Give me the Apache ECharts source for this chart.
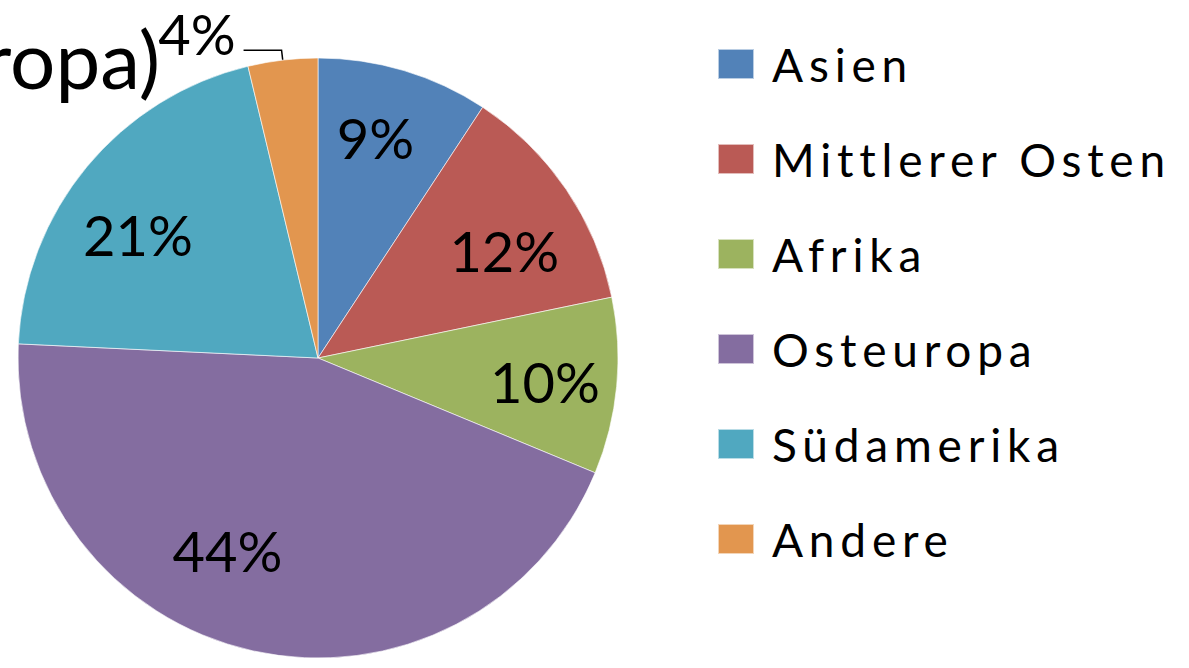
<!DOCTYPE html>
<html>
<head>
<meta charset="utf-8">
<script src="https://cdn.jsdelivr.net/npm/echarts@6/dist/echarts.min.js"></script>
<style>
html,body{margin:0;padding:0;background:#fff;}
#chart{width:1189px;height:668px;}
</style>
</head>
<body>
<div id="chart"></div>
<script>
// Data
const categories = ['Asien', 'Mittlerer Osten', 'Afrika', 'Osteuropa', 'Südamerika', 'Andere'];
const shares = [9.25, 12.5, 9.5, 44.5, 20.5, 3.75];           // slice sizes (share of the whole, %)
const printedLabels = ['9%', '12%', '10%', '44%', '21%', '4%']; // data labels as printed
const colors = ['#5282B8', '#BA5A55', '#9CB35F', '#846DA0', '#50A8C0', '#E2964F'];
const titleText = '(Osteuropa)';

// label nudges (styling only) to mimic the original label placement
const labelNudge = [[-5, -12], [6, 15], [10, 3], [-43, -20], [-12, 15], [0, 0]];

const FONT = 'Lato';
const chart = echarts.init(document.getElementById('chart'), null, {renderer: 'svg'});

const pieData = categories.map((c, i) => ({
  name: c,
  value: shares[i],
  itemStyle: {color: colors[i]},
  label: {show: i === 5},
  labelLine: {show: i === 5}
}));
const labelData = categories.map((c, i) => ({
  name: c,
  value: shares[i],
  label: {show: i !== 5}
}));

chart.setOption({
  animation: false,
  title: {
    text: titleText,
    right: 1029,
    top: 8,
    padding: 0,
    textStyle: {fontFamily: FONT, fontSize: 80, fontWeight: 'normal', color: '#000', lineHeight: 100}
  },
  legend: {
    orient: 'vertical',
    left: 717,
    top: 27,
    padding: 0,
    itemWidth: 36,
    itemHeight: 30,
    itemGap: 21,
    icon: 'rect',
    selectedMode: false,
    data: categories,
    textStyle: {fontFamily: FONT, fontSize: 46, color: '#000', lineHeight: 56, padding: [18, 0, 0, 13]}
  },
  series: [
    {
      type: 'pie',
      center: [318, 358],
      radius: [0, 300],
      startAngle: 90,
      clockwise: true,
      silent: true,
      itemStyle: {borderColor: 'rgba(255,255,255,0.6)', borderWidth: 1},
      label: {
        position: 'outside',
        formatter: (p) => printedLabels[p.dataIndex] + '\n ',
        fontFamily: FONT, fontSize: 56, color: '#000',
        lineHeight: 34,
        distanceToLabelLine: 8
      },
      labelLine: {length: 10, length2: 38, lineStyle: {color: '#000', width: 1.5}},
      data: pieData
    },
    {
      type: 'pie',
      center: [318, 358],
      radius: [0, 430],
      startAngle: 90,
      clockwise: true,
      silent: true,
      z: 3,
      itemStyle: {color: 'rgba(0,0,0,0)'},
      labelLine: {show: false},
      label: {
        position: 'inside',
        formatter: (p) => printedLabels[p.dataIndex],
        fontFamily: FONT, fontSize: 56, color: '#000'
      },
      labelLayout: (p) => ({dx: labelNudge[p.dataIndex][0], dy: labelNudge[p.dataIndex][1]}),
      data: labelData
    }
  ]
});

// the original legend text is set with wide letter spacing
document.querySelectorAll('#chart svg text').forEach((t) => {
  if (categories.indexOf(t.textContent) >= 0) t.setAttribute('letter-spacing', '5.8');
});
</script>
</body>
</html>
